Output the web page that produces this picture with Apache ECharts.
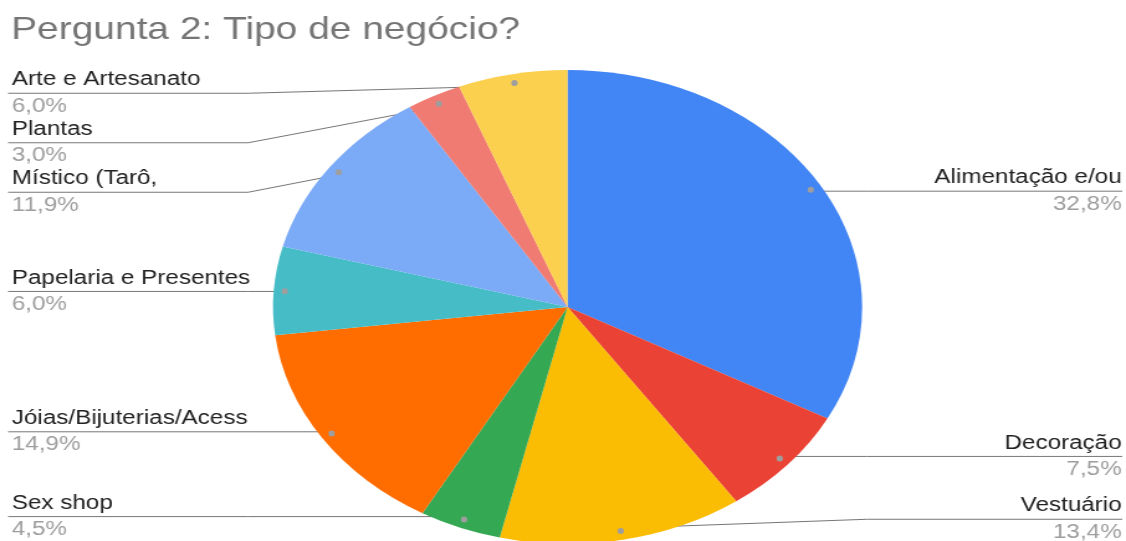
<!DOCTYPE html>
<html>
<head>
<meta charset="utf-8">
<script src="https://cdn.jsdelivr.net/npm/echarts@6/dist/echarts.min.js"></script>
<style>
  html, body { margin: 0; padding: 0; background: #fff; overflow: hidden; width: 1126px; height: 541px; }
  /* the chart is laid out narrower and then widened, so the pie is an ellipse */
  #chart { width: 906px; height: 541px; transform: scaleX(1.2428); transform-origin: 0 0; }
</style>
</head>
<body>
<div id="chart"></div>
<script>
// ---- data ----
const chartTitle = 'Pergunta 2: Tipo de negócio?';
const categories = [
  'Alimentação e/ou',
  'Decoração',
  'Vestuário',
  'Sex shop',
  'Jóias/Bijuterias/Acess',
  'Papelaria e Presentes',
  'Místico (Tarô,',
  'Plantas',
  'Arte e Artesanato'
];
const shares = [32.8, 7.5, 13.4, 4.5, 14.9, 6.0, 11.9, 3.0, 6.0];

// ---- styling / layout ----
const sliceColors = ['#4285F4', '#EA4335', '#FBBC04', '#34A853', '#FF6D01', '#46BDC6', '#7BAAF7', '#F07B72', '#FCD04F'];
const FONT = '"Liberation Sans", Arial, sans-serif';
const W = 906;
const R = 237;            // pie radius
const CX = 456.7;         // pie centre (chart pixels)
const CY = 307;
const BOX_LEFT = 6;
const BOX_TOP = CY - R;
const DOT_RATIO = 0.95;   // label dots sit just inside the rim
const LABEL_PITCH = 49.5; // vertical room each two-line label needs
const LINE_H = 26.5;

const fmtPct = v => v.toFixed(1).replace('.', ',') + '%';

const chart = echarts.init(document.getElementById('chart'), null, { renderer: 'canvas' });

// label anchors reported by the pie layout, and the stacked label centres
const anchors = {};
let stackedY = null;

function dotOf(p) {
  const e = p.labelLinePoints[0];
  return [CX + DOT_RATIO * (e[0] - CX), CY + DOT_RATIO * (e[1] - CY)];
}

// Label line: dot inside the slice -> elbow just outside the rim -> under the whole label name
function layoutLabel(p) {
  if (!p.labelLinePoints) return {};
  const rect = p.labelRect;
  const onLeft = rect.x + rect.width / 2 < CX;
  const dot = dotOf(p);
  anchors[p.dataIndex] = { y: dot[1], left: onLeft };
  const y = stackedY ? stackedY[p.dataIndex] : rect.y + rect.height / 2;
  const elbowX = onLeft ? CX - R - 20 : CX + R + 4;
  const endX = onLeft ? rect.x - 3 : rect.x + rect.width + 0.5;
  return { y: y, labelLinePoints: [dot, [elbowX, y], [endX, y]] };
}

// keep labels on each side inside the pie's vertical span without overlapping
function stackSide(items, top, bottom, out) {
  const h = LABEL_PITCH;
  items.sort((a, b) => a.y - b.y);
  let prev = top;
  items.forEach(it => { it.t = Math.max(it.y, prev + h / 2); prev = it.t + h / 2; });
  let next = bottom;
  for (let i = items.length - 1; i >= 0; i--) {
    const it = items[i];
    it.t = Math.min(it.t, next - h / 2);
    next = it.t - h / 2;
  }
  items.forEach(it => { out[it.i] = it.t; });
}

function buildOption() {
  const pieBox = {
    left: BOX_LEFT,
    top: BOX_TOP,
    width: W - BOX_LEFT,
    height: 2 * R,
    center: [CX - BOX_LEFT, R],
    startAngle: 90,
    clockwise: true
  };
  return {
    backgroundColor: '#ffffff',
    animation: false,
    title: {
      text: chartTitle,
      left: 9,
      top: 15,
      padding: 0,
      textStyle: { fontFamily: FONT, fontSize: 31.3, fontWeight: 'normal', color: '#757575' }
    },
    series: [
      Object.assign({
        type: 'pie',
        name: 'negocio',
        radius: R,
        avoidLabelOverlap: false,
        data: categories.map((name, i) => ({
          name: name,
          value: shares[i],
          itemStyle: { color: sliceColors[i] }
        })),
        itemStyle: { borderWidth: 0 },
        emphasis: { disabled: true },
        label: {
          show: true,
          position: 'outer',
          alignTo: 'edge',
          edgeDistance: 3.5,
          overflow: 'none',
          fontFamily: FONT,
          formatter: p => '{n|' + p.name + '}\n{p|' + fmtPct(p.value) + '}',
          rich: {
            n: { fontFamily: FONT, fontSize: 19.5, lineHeight: LINE_H, color: '#222222' },
            p: { fontFamily: FONT, fontSize: 19.5, lineHeight: LINE_H, color: '#9e9e9e' }
          }
        },
        labelLine: {
          show: true,
          length: -(1 - DOT_RATIO) * R,
          length2: 0,
          lineStyle: { color: '#777777', width: 1 }
        },
        labelLayout: layoutLabel
      }, pieBox),
      // small grey dots where each label line meets its slice
      Object.assign({
        type: 'pie',
        name: 'dots',
        radius: [R * (2 * DOT_RATIO - 1), R],
        silent: true,
        data: categories.map((name, i) => ({ name: name, value: shares[i] })),
        itemStyle: { color: 'rgba(0,0,0,0)', borderWidth: 0 },
        emphasis: { disabled: true },
        label: {
          show: true,
          position: 'inside',
          formatter: '{d|}',
          rich: { d: { width: 5, height: 6, borderRadius: 3, backgroundColor: '#9e9e9e' } }
        },
        labelLine: { show: false }
      }, pieBox)
    ]
  };
}

// first pass: the pie reports where each label would sit
chart.setOption(buildOption());

// second pass: stack the labels per side and redraw
const leftItems = [], rightItems = [];
Object.keys(anchors).forEach(k => {
  const a = anchors[k];
  (a.left ? leftItems : rightItems).push({ i: +k, y: a.y });
});
stackedY = {};
stackSide(leftItems, CY - R - 1.5, CY + R, stackedY);
stackSide(rightItems, CY - R - 1.5, CY + R, stackedY);
chart.setOption(buildOption(), true);
</script>
</body>
</html>
